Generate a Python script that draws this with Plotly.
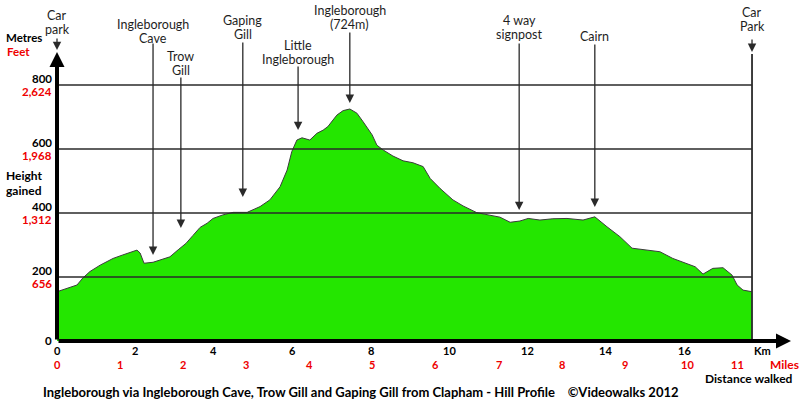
import plotly.graph_objects as go

# ---------------- data ----------------
dist_km = [0.00, 0.41, 0.51, 0.66, 0.84, 1.10, 1.43, 1.68, 2.04, 2.12, 2.22, 2.45, 2.63,
           2.88, 3.09, 3.29, 3.47, 3.65, 3.83, 3.98, 4.23, 4.49, 4.85, 5.18, 5.43, 5.69,
           5.87, 5.99, 6.12, 6.25, 6.45, 6.63, 6.79, 6.91, 7.14, 7.30, 7.47, 7.65, 7.81,
           8.04, 8.16, 8.32, 8.57, 8.83, 9.08, 9.34, 9.52, 9.77, 10.10, 10.36, 10.71,
           10.97, 11.30, 11.56, 11.81, 12.02, 12.32, 12.65, 13.01, 13.42, 13.72, 14.03,
           14.36, 14.67, 15.05, 15.38, 15.71, 16.07, 16.28, 16.48, 16.73, 16.99, 17.22,
           17.35, 17.50, 17.73]
height_m = [154, 170, 175, 197, 217, 237, 258, 269, 284, 275, 243, 246, 253,
            263, 285, 305, 330, 355, 368, 383, 394, 402, 402, 420, 441, 482,
            534, 592, 628, 635, 628, 649, 659, 670, 706, 720, 725, 712, 685,
            644, 612, 597, 578, 563, 557, 545, 508, 477, 441, 422, 401,
            394, 387, 371, 375, 383, 378, 382, 383, 378, 388, 357,
            326, 290, 284, 279, 258, 241, 232, 209, 227, 229, 206,
            175, 159, 154]

km_ticks = [0, 2, 4, 6, 8, 10, 12, 14, 16]
mile_ticks = [0, 1, 2, 3, 4, 5, 6, 7, 8, 9, 10, 11]
metre_ticks = [0, 200, 400, 600, 800]
feet_labels = ["", "656", "1,312", "1,968", "2,624"]

feature_labels = ["Car<br>park", "Ingleborough<br>Cave", "Trow<br>Gill", "Gaping<br>Gill",
                  "Little<br>Ingleborough", "Ingleborough<br>(724m)", "4 way<br>signpost",
                  "Cairn", "Car<br>Park"]
feature_km = [0.0, 2.45, 3.16, 4.74, 6.15, 7.47, 11.79, 13.72, 17.73]
feature_tip_m = [909, 269, 353, 450, 659, 744, 409, 419, 903]

title_text = ("Ingleborough via Ingleborough Cave, Trow Gill and Gaping Gill from Clapham - "
              "Hill Profile\u00a0\u00a0\u00a0\u00a0©Videowalks 2012")

# ---------------- layout helpers (pixel placement) ----------------
W, H = 800, 403
X0_PX, Y0_PX = 57, 341          # pixel of (0 km, 0 m)
PX_PER_KM, PX_PER_M = 39.2, 0.32
KM_PER_MILE = 1.609344


def km_at(px):
    return (px - X0_PX) / PX_PER_KM


def m_at(py):
    return (Y0_PX - py) / PX_PER_M


# first-line centre y pixel and arrow start y pixel for each feature
label_y_px = [15, 24, 56, 20, 45, 10, 20, 36, 12]
LINE_GAP = 14
arrow_top_px = [37, 42, 76, 41, 65, 31, 42, 43, 38]

FONT = "Lato, 'Open Sans', sans-serif"
RED = "#ee0000"
DARK = "#2a2a2a"
GREEN = "#24e600"

fig = go.Figure()
fig.add_trace(go.Scatter(
    x=dist_km, y=height_m, mode="lines", fill="tozeroy",
    fillcolor=GREEN, line=dict(color="#3c3c3c", width=1), hoverinfo="skip"))

shapes = []
end_km = dist_km[-1]
for m in metre_ticks[1:]:
    shapes.append(dict(type="line", xref="x", yref="y", x0=0, x1=end_km, y0=m, y1=m,
                       line=dict(color=DARK, width=1.6), layer="above"))
shapes.append(dict(type="line", xref="x", yref="y", x0=end_km, x1=end_km, y0=0, y1=m_at(54),
                   line=dict(color=DARK, width=1.8), layer="above"))

ann = []
# axes with arrows
ann.append(dict(x=km_at(791), y=0, ax=0, ay=0, axref="x", ayref="y", xref="x", yref="y",
                text="", showarrow=True, arrowhead=2, arrowsize=0.75, arrowwidth=4,
                arrowcolor="black"))
ann.append(dict(x=0, y=m_at(52), ax=0, ay=0, axref="x", ayref="y", xref="x", yref="y",
                text="", showarrow=True, arrowhead=2, arrowsize=0.75, arrowwidth=4,
                arrowcolor="black"))

# feature pointers and labels
for lab, k, tip, ly, at in zip(feature_labels, feature_km, feature_tip_m, label_y_px, arrow_top_px):
    ann.append(dict(x=k, y=tip, ax=k, ay=m_at(at), axref="x", ayref="y", xref="x", yref="y",
                    text="", showarrow=True, arrowhead=2, arrowsize=1.3, arrowwidth=1.3,
                    arrowcolor=DARK))
    for i, line in enumerate(lab.split("<br>")):
        ann.append(dict(x=k, y=m_at(ly + i * LINE_GAP), xref="x", yref="y", text=line,
                        showarrow=False, borderpad=0,
                        font=dict(family=FONT, size=12.5, color="#1e1e1e")))

# km tick labels
for k in km_ticks:
    ann.append(dict(x=k, y=m_at(350), xref="x", yref="y", text="<b>%d</b>" % k,
                    showarrow=False, borderpad=0, font=dict(family=FONT, size=11, color="black")))
# mile tick labels
for mi in mile_ticks:
    xk = mi * KM_PER_MILE
    xs = -13 if mi == 11 else 0
    ann.append(dict(x=xk, y=m_at(364), xref="x", yref="y", text="<b>%d</b>" % mi, xshift=xs,
                    showarrow=False, borderpad=0, font=dict(family=FONT, size=11, color=RED)))
ann.append(dict(x=km_at(762), y=m_at(350), xref="x", yref="y", text="<b>Km</b>", borderpad=0,
                showarrow=False, font=dict(family=FONT, size=11, color="black")))
ann.append(dict(x=km_at(784), y=m_at(364), xref="x", yref="y", text="<b>Miles</b>", borderpad=0,
                showarrow=False, font=dict(family=FONT, size=12, color=RED)))
ann.append(dict(x=km_at(794), y=m_at(378), xref="x", yref="y", text="<b>Distance walked</b>",
                xanchor="right", showarrow=False, borderpad=0,
                font=dict(family=FONT, size=12, color="black")))

# height tick labels
for m, ft in zip(metre_ticks, feet_labels):
    ann.append(dict(x=km_at(53), y=m, xref="x", yref="y", text="<b>%d</b>" % m, xanchor="right",
                    yshift=7 if ft else 1, showarrow=False, borderpad=0,
                    font=dict(family=FONT, size=11.5, color="black")))
    if ft:
        ann.append(dict(x=km_at(53), y=m, xref="x", yref="y", text="<b>%s</b>" % ft,
                        xanchor="right", yshift=-6.5, showarrow=False, borderpad=0,
                        font=dict(family=FONT, size=11.5, color=RED)))

ann.append(dict(x=km_at(5), y=m_at(37.5), xref="x", yref="y", text="<b>Metres</b>", xanchor="left",
                showarrow=False, borderpad=0, font=dict(family=FONT, size=11.5, color="black")))
ann.append(dict(x=km_at(6), y=m_at(51.5), xref="x", yref="y", text="<b>Feet</b>", xanchor="left",
                showarrow=False, borderpad=0, font=dict(family=FONT, size=11.5, color=RED)))
for i, line in enumerate(["Height", "gained"]):
    ann.append(dict(x=km_at(5), y=m_at(175 + i * 15), xref="x", yref="y", text="<b>%s</b>" % line,
                    xanchor="left", showarrow=False, borderpad=0,
                    font=dict(family=FONT, size=12, color="black")))

ann.append(dict(x=km_at(361), y=m_at(392), xref="x", yref="y", text="<b>%s</b>" % title_text,
                showarrow=False, borderpad=0, font=dict(family=FONT, size=13, color="black")))

fig.update_layout(
    width=W, height=H, margin=dict(l=0, r=0, t=0, b=0, pad=0),
    paper_bgcolor="white", plot_bgcolor="white", showlegend=False,
    xaxis=dict(range=[km_at(0), km_at(W)], visible=False, fixedrange=True),
    yaxis=dict(range=[m_at(H), m_at(0)], visible=False, fixedrange=True),
    shapes=shapes, annotations=ann,
)

fig.write_html("out.html")
